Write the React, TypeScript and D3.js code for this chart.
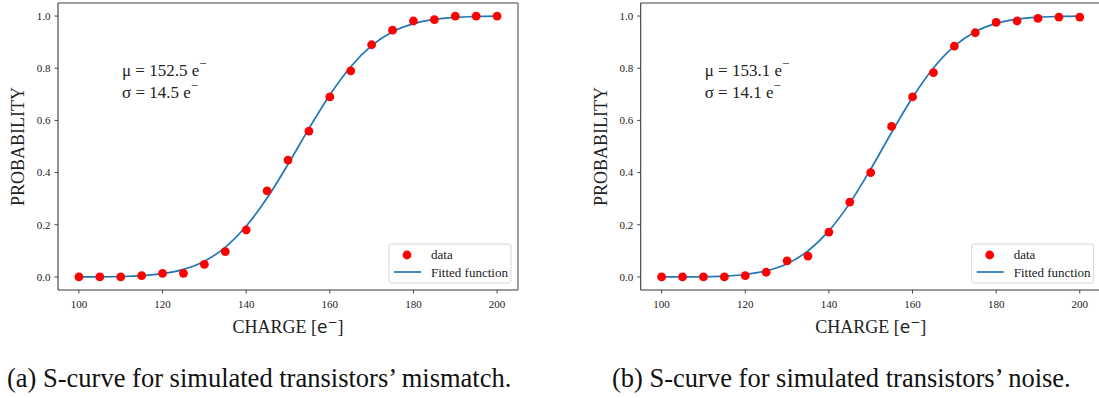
import React from "react";
import * as d3 from "d3";

const charges = [100, 105, 110, 115, 120, 125, 130, 135, 140, 145, 150, 155, 160, 165, 170, 175, 180, 185, 190, 195, 200];

const dataMismatch = [0, 0, 0, 0.005, 0.014, 0.014, 0.048, 0.097, 0.18, 0.33, 0.448, 0.559, 0.69, 0.79, 0.89, 0.946, 0.981, 0.986, 1.0, 1.0, 1.0];
const fitMismatch = [0.0002, 0.0005, 0.0017, 0.0049, 0.0125, 0.0289, 0.0604, 0.1137, 0.1943, 0.3025, 0.4316, 0.5684, 0.6975, 0.8057, 0.8863, 0.9396, 0.9711, 0.9875, 0.9951, 0.9983, 0.9995];

const dataNoise = [0, 0, 0, 0, 0.005, 0.018, 0.062, 0.08, 0.172, 0.287, 0.4, 0.577, 0.69, 0.783, 0.885, 0.936, 0.976, 0.981, 0.991, 0.996, 0.996];
const fitNoise = [0.0001, 0.0003, 0.0011, 0.0034, 0.0094, 0.0231, 0.0507, 0.0996, 0.1764, 0.2829, 0.413, 0.5537, 0.6877, 0.8007, 0.8847, 0.9398, 0.9718, 0.9882, 0.9956, 0.9985, 0.9996];

const xTicks = [100, 120, 140, 160, 180, 200];
const yTicks = [0, 0.2, 0.4, 0.6, 0.8, 1.0];

const muLabels = ["152.5", "153.1"];
const sigmaLabels = ["14.5", "14.1"];
const captions = [
  "(a) S-curve for simulated transistors\u2019 mismatch.",
  "(b) S-curve for simulated transistors\u2019 noise.",
];

const SERIF = "'Liberation Serif', 'Times New Roman', serif";
const SANS = "'DejaVu Sans', sans-serif";

function Panel({ left, data, fit, mu, sigma }: { left: number; data: number[]; fit: number[]; mu: string; sigma: string }) {
  const width = 460;
  const top = 3;
  const bottom = 290;
  const x = d3.scaleLinear().domain([95, 205]).range([left, left + width]);
  const y = d3.scaleLinear().domain([-0.05, 1.05]).range([bottom, top]);
  const line = d3
    .line<number>()
    .x((_, i) => x(charges[i]))
    .y((d) => y(d))
    .curve(d3.curveMonotoneX);
  const right = left + width;
  const cx = (left + right) / 2;
  const cy = (top + bottom) / 2;
  const legL = right - 129;
  return (
    <g>
      <line x1={left} x2={right} y1={top} y2={top} stroke="#7f7f7f" strokeWidth={1.5} />
      <line x1={right} x2={right} y1={top} y2={bottom} stroke="#7f7f7f" strokeWidth={1.5} />
      <line x1={left} x2={left} y1={top} y2={bottom} stroke="#3a3a3a" strokeWidth={1.1} />
      <line x1={left} x2={right} y1={bottom} y2={bottom} stroke="#3a3a3a" strokeWidth={1.1} />
      {yTicks.map((t) => (
        <g key={"y" + t}>
          <line x1={left - 3.5} x2={left} y1={y(t)} y2={y(t)} stroke="#333" strokeWidth={0.9} />
          <text x={left - 7.5} y={y(t) + 3.8} textAnchor="end" fontFamily={SERIF} fontSize={11} fill="#222">
            {t.toFixed(1)}
          </text>
        </g>
      ))}
      {xTicks.map((t) => (
        <g key={"x" + t}>
          <line x1={x(t)} x2={x(t)} y1={bottom} y2={bottom + 3.5} stroke="#333" strokeWidth={0.9} />
          <text x={x(t)} y={bottom + 18} textAnchor="middle" fontFamily={SERIF} fontSize={11} fill="#222">
            {t}
          </text>
        </g>
      ))}
      <text
        transform={`translate(${left - 34},${cy}) rotate(-90)`}
        textAnchor="middle"
        fontFamily={SERIF}
        fontSize={18}
        fill="#222"
      >
        PROBABILITY
      </text>
      <text x={cx} y={333} textAnchor="middle" fontFamily={SERIF} fontSize={18} fill="#222">
        CHARGE [<tspan fontFamily={SANS} fontSize={17}>e</tspan>
        <tspan fontFamily={SANS} fontSize={12} dy={-7}>{"\u2212"}</tspan>
        <tspan dy={7}>]</tspan>
      </text>
      <text x={left + 64} y={75.5} fontFamily={SERIF} fontSize={17} fill="#222">
        {"\u03bc = " + mu + " e"}
        <tspan fontSize={13} dy={-8}>{"\u2212"}</tspan>
      </text>
      <text x={left + 64} y={97.5} fontFamily={SERIF} fontSize={17} fill="#222">
        {"\u03c3 = " + sigma + " e"}
        <tspan fontSize={13} dy={-8}>{"\u2212"}</tspan>
      </text>
      <path d={line(fit) || ""} fill="none" stroke="#1f77b4" strokeWidth={1.7} />
      {data.map((d, i) => (
        <circle key={i} cx={x(charges[i])} cy={y(d)} r={4.4} fill="#ff0000" />
      ))}
      <rect x={legL} y={244} width={122} height={39} rx={2.5} fill="#fff" fillOpacity={0.8} stroke="#d5d5d5" strokeWidth={1} />
      <circle cx={legL + 18} cy={255} r={4.4} fill="#ff0000" />
      <line x1={legL + 5} x2={legL + 32} y1={272} y2={272} stroke="#1f77b4" strokeWidth={1.7} />
      <text x={legL + 42} y={258.5} fontFamily={SERIF} fontSize={13} fill="#222">data</text>
      <text x={legL + 42} y={276.5} fontFamily={SERIF} fontSize={13} fill="#222">Fitted function</text>
    </g>
  );
}

export default function App() {
  return (
    <div style={{ position: "fixed", left: 0, top: 0 }}>
      <svg width={1099} height={398} style={{ display: "block", background: "#fff" }}>
        <Panel left={58} data={dataMismatch} fit={fitMismatch} mu={muLabels[0]} sigma={sigmaLabels[0]} />
        <Panel left={640.7} data={dataNoise} fit={fitNoise} mu={muLabels[1]} sigma={sigmaLabels[1]} />
        <text x={7} y={387} fontFamily={SERIF} fontSize={26.5} fill="#111">{captions[0]}</text>
        <text x={612} y={387} fontFamily={SERIF} fontSize={26.5} fill="#111">{captions[1]}</text>
      </svg>
    </div>
  );
}
